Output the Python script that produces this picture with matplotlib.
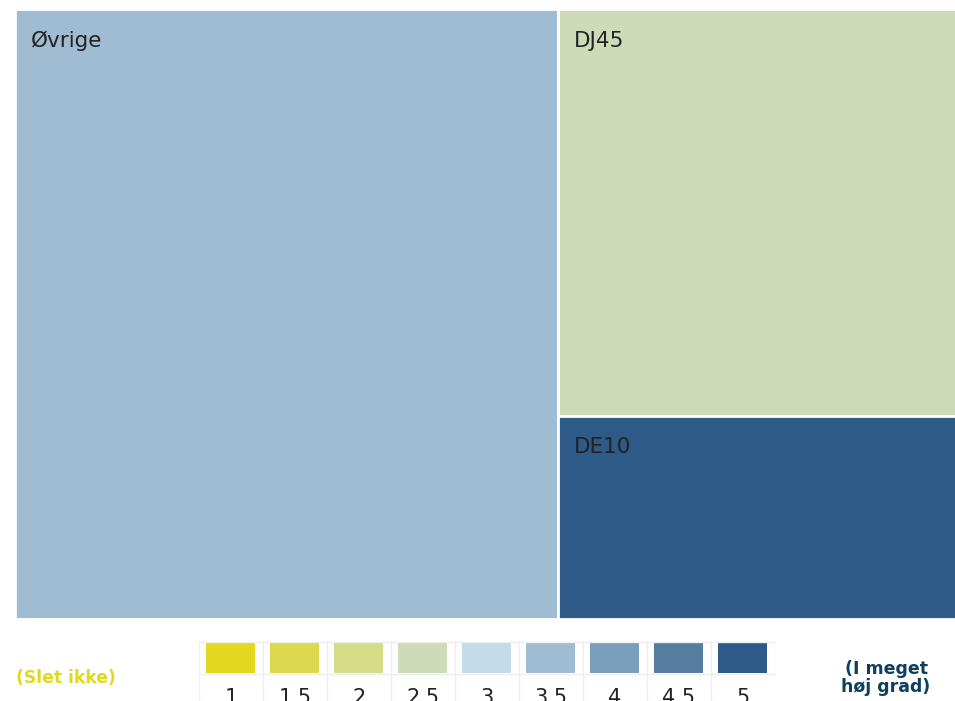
import matplotlib.pyplot as plt
from matplotlib.patches import Rectangle

W, H = 955, 701

# treemap data
names = ['Øvrige', 'DJ45', 'DE10']
values = [57.7, 28.2, 14.1]
scores = [3.5, 2.5, 5]

# colour scale
steps = [1, 1.5, 2, 2.5, 3, 3.5, 4, 4.5, 5]
step_labels = ['1', '1.5', '2', '2.5', '3', '3.5', '4', '4.5', '5']
step_colors = ['#e2d81f', '#dbd84f', '#d4dc88', '#cddbb8', '#c4dcea',
               '#9fbcd2', '#7a9dba', '#567ca0', '#2e5a87']
low_label = '(Slet ikke)'
high_label = '(I meget\nhøj grad)'

col_of = dict(zip(steps, step_colors))

fig = plt.figure(figsize=(W / 100, H / 100), dpi=100)

# treemap area
ax = fig.add_axes([15 / W, 1 - 619 / H, 941 / W, 610 / H])
ax.set_xlim(0, 1)
ax.set_ylim(1, 0)
ax.axis('off')

total = sum(values)
# first block takes a full-height column, the rest stack on the right
w0 = values[0] / total
rects = [(0, 0, w0, 1)]
rest = sum(values[1:])
y = 0
for v in values[1:]:
    h = v / rest
    rects.append((w0, y, 1 - w0, h))
    y += h

for (x0, y0, w, h), name, s in zip(rects, names, scores):
    ax.add_patch(Rectangle((x0, y0), w, h, facecolor=col_of[s],
                           edgecolor='white', linewidth=2))
    ax.text(x0 + 0.0165, y0 + 0.052, name, fontsize=15.5, color='#222222',
            va='center', ha='left')

# colour legend
lx0, lx1 = 199, 775
lax = fig.add_axes([lx0 / W, 0, (lx1 - lx0) / W, 1 - 641 / H])
n = len(steps)
lax.set_xlim(0, n)
lax.set_ylim(60, 0)
lax.axis('off')
for i, c in enumerate(step_colors):
    lax.add_patch(Rectangle((i + 0.11, 1), 0.76, 31, facecolor=c, edgecolor='none'))
    lax.plot([i, i], [0, 60], color='#eeeeee', lw=1)
    lax.text(i + 0.5, 57, step_labels[i], fontsize=15, color='#222222',
             ha='center', va='center')
lax.plot([n, n], [0, 60], color='#eeeeee', lw=1)
lax.plot([0, n], [0.5, 0.5], color='#eeeeee', lw=1)
lax.plot([0, n], [33, 33], color='#eeeeee', lw=1)

fig.text(16 / W, 1 - 678 / H, low_label, fontsize=12.3, fontweight='bold',
         color='#e2d81f', ha='left', va='center')
fig.text(886 / W, 1 - 678 / H, high_label, fontsize=12.5, fontweight='bold',
         color='#0e3f5e', ha='center', va='center', linespacing=1.05)

fig.savefig('out.png', dpi=100)
